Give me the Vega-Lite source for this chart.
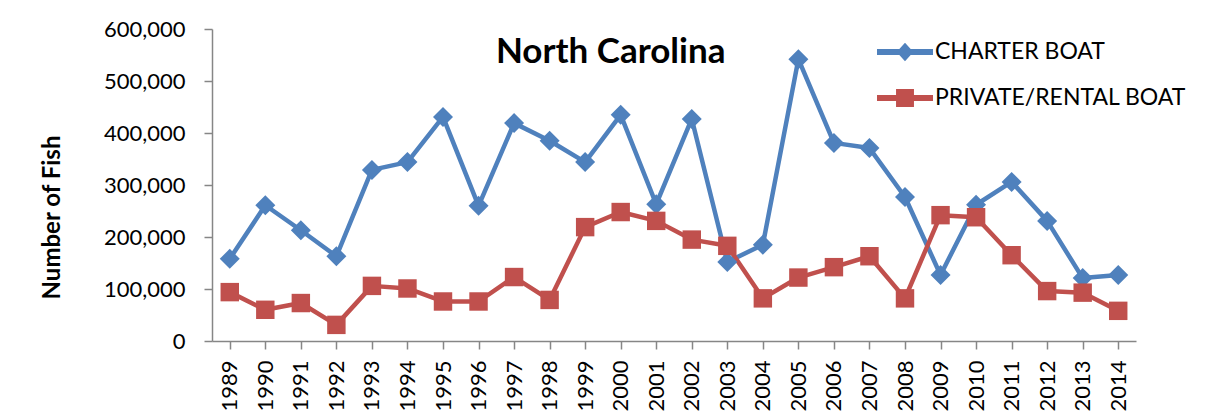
{
  "$schema": "https://vega.github.io/schema/vega-lite/v6.json",
  "width": 924,
  "height": 312,
  "autosize": {"type": "none"},
  "padding": {"left": 212, "top": 29, "right": 73, "bottom": 78},
  "background": "white",
  "config": {
    "font": "Lato",
    "view": {"stroke": null},
    "axis": {"domainColor": "#868686", "tickColor": "#868686", "labelColor": "#000000", "titleColor": "#000000", "grid": false}
  },
  "datasets": {
    "fish": [
      {"year": "1989", "series": "CHARTER BOAT", "fish": 158000},
      {"year": "1990", "series": "CHARTER BOAT", "fish": 261000},
      {"year": "1991", "series": "CHARTER BOAT", "fish": 213000},
      {"year": "1992", "series": "CHARTER BOAT", "fish": 163000},
      {"year": "1993", "series": "CHARTER BOAT", "fish": 329000},
      {"year": "1994", "series": "CHARTER BOAT", "fish": 344000},
      {"year": "1995", "series": "CHARTER BOAT", "fish": 431000},
      {"year": "1996", "series": "CHARTER BOAT", "fish": 260000},
      {"year": "1997", "series": "CHARTER BOAT", "fish": 419000},
      {"year": "1998", "series": "CHARTER BOAT", "fish": 385000},
      {"year": "1999", "series": "CHARTER BOAT", "fish": 344000},
      {"year": "2000", "series": "CHARTER BOAT", "fish": 435000},
      {"year": "2001", "series": "CHARTER BOAT", "fish": 263000},
      {"year": "2002", "series": "CHARTER BOAT", "fish": 427000},
      {"year": "2003", "series": "CHARTER BOAT", "fish": 152000},
      {"year": "2004", "series": "CHARTER BOAT", "fish": 185000},
      {"year": "2005", "series": "CHARTER BOAT", "fish": 542000},
      {"year": "2006", "series": "CHARTER BOAT", "fish": 381000},
      {"year": "2007", "series": "CHARTER BOAT", "fish": 371000},
      {"year": "2008", "series": "CHARTER BOAT", "fish": 277000},
      {"year": "2009", "series": "CHARTER BOAT", "fish": 127000},
      {"year": "2010", "series": "CHARTER BOAT", "fish": 262000},
      {"year": "2011", "series": "CHARTER BOAT", "fish": 306000},
      {"year": "2012", "series": "CHARTER BOAT", "fish": 231000},
      {"year": "2013", "series": "CHARTER BOAT", "fish": 121000},
      {"year": "2014", "series": "CHARTER BOAT", "fish": 127000},
      {"year": "1989", "series": "PRIVATE/RENTAL BOAT", "fish": 94000},
      {"year": "1990", "series": "PRIVATE/RENTAL BOAT", "fish": 60000},
      {"year": "1991", "series": "PRIVATE/RENTAL BOAT", "fish": 73000},
      {"year": "1992", "series": "PRIVATE/RENTAL BOAT", "fish": 31000},
      {"year": "1993", "series": "PRIVATE/RENTAL BOAT", "fish": 106000},
      {"year": "1994", "series": "PRIVATE/RENTAL BOAT", "fish": 101000},
      {"year": "1995", "series": "PRIVATE/RENTAL BOAT", "fish": 76000},
      {"year": "1996", "series": "PRIVATE/RENTAL BOAT", "fish": 76000},
      {"year": "1997", "series": "PRIVATE/RENTAL BOAT", "fish": 123000},
      {"year": "1998", "series": "PRIVATE/RENTAL BOAT", "fish": 79000},
      {"year": "1999", "series": "PRIVATE/RENTAL BOAT", "fish": 219000},
      {"year": "2000", "series": "PRIVATE/RENTAL BOAT", "fish": 248000},
      {"year": "2001", "series": "PRIVATE/RENTAL BOAT", "fish": 231000},
      {"year": "2002", "series": "PRIVATE/RENTAL BOAT", "fish": 195000},
      {"year": "2003", "series": "PRIVATE/RENTAL BOAT", "fish": 183000},
      {"year": "2004", "series": "PRIVATE/RENTAL BOAT", "fish": 82000},
      {"year": "2005", "series": "PRIVATE/RENTAL BOAT", "fish": 122000},
      {"year": "2006", "series": "PRIVATE/RENTAL BOAT", "fish": 142000},
      {"year": "2007", "series": "PRIVATE/RENTAL BOAT", "fish": 163000},
      {"year": "2008", "series": "PRIVATE/RENTAL BOAT", "fish": 82000},
      {"year": "2009", "series": "PRIVATE/RENTAL BOAT", "fish": 242000},
      {"year": "2010", "series": "PRIVATE/RENTAL BOAT", "fish": 238000},
      {"year": "2011", "series": "PRIVATE/RENTAL BOAT", "fish": 165000},
      {"year": "2012", "series": "PRIVATE/RENTAL BOAT", "fish": 96000},
      {"year": "2013", "series": "PRIVATE/RENTAL BOAT", "fish": 93000},
      {"year": "2014", "series": "PRIVATE/RENTAL BOAT", "fish": 58000}
    ],
    "heading": [
      {"label": "North Carolina", "year": "2000", "fish": 535000}
    ]
  },
  "data": {"name": "fish"},
  "encoding": {
    "y": {
      "field": "fish",
      "type": "quantitative",
      "scale": {"domain": [0, 600000], "nice": false, "zero": true},
      "axis": {
        "values": [0, 100000, 200000, 300000, 400000, 500000, 600000],
        "format": ",d",
        "title": "Number of Fish",
        "titleFont": "Lato",
        "titleFontSize": 24,
        "titleFontWeight": "bold",
        "titleAngle": -90,
        "titleX": -160,
        "titleY": 188,
        "titleAlign": "center",
        "titleBaseline": "middle",
        "labelFontSize": 22,
        "labelPadding": 19,
        "tickSize": 8,
        "domainWidth": 1.5,
        "tickWidth": 1.5
      }
    }
  },
  "layer": [
    {
      "mark": {"type": "line", "strokeWidth": 4.5, "strokeJoin": "round", "strokeCap": "round"},
      "encoding": {
        "x": {
          "field": "year",
          "type": "ordinal",
          "scale": {"paddingInner": 0, "paddingOuter": 0},
          "axis": {
            "orient": "bottom",
            "title": null,
            "labelAngle": -90,
            "labelFontSize": 22,
            "labelPadding": 19,
            "ticks": false,
            "domainWidth": 1.5
          }
        },
        "color": {
          "field": "series",
          "type": "nominal",
          "scale": {"domain": ["CHARTER BOAT", "PRIVATE/RENTAL BOAT"], "range": ["#4F81BD", "#C0504D"]},
          "legend": {
            "title": null,
            "orient": "none",
            "legendX": 665,
            "legendY": -5,
            "padding": 0,
            "rowPadding": 6,
            "labelOffset": 2,
            "labelFontSize": 23,
            "labelFont": "Lato",
            "labelColor": "#000000",
            "symbolSize": 3136,
            "symbolStrokeWidth": 0,
            "symbolOpacity": 1,
            "labelLimit": 400,
            "encode": {
              "symbols": {
                "update": {
                  "shape": {"signal": "datum.value === 'CHARTER BOAT' ? 'M-1,-0.11L1,-0.11L1,0.11L-1,0.11Z M0,-0.33L0.3,0L0,0.33L-0.3,0Z' : 'M-1,-0.11L1,-0.11L1,0.11L-1,0.11Z M-0.32,-0.32L0.32,-0.32L0.32,0.32L-0.32,0.32Z'"},
                  "fill": {"signal": "datum.value === 'CHARTER BOAT' ? '#4F81BD' : '#C0504D'"},
                  "size": {"value": 3136},
                  "strokeWidth": {"value": 0},
                  "opacity": {"value": 1}
                }
              }
            }
          }
        }
      }
    },
    {
      "transform": [{"filter": "datum.series === 'CHARTER BOAT'"}],
      "mark": {"type": "point", "shape": "diamond", "filled": true, "opacity": 1, "size": 400},
      "encoding": {
        "x": {
          "field": "year",
          "type": "ordinal",
          "axis": {
            "orient": "bottom",
            "title": null,
            "bandPosition": 0,
            "labels": false,
            "domain": false,
            "ticks": true,
            "tickSize": 8,
            "tickWidth": 1.5
          }
        },
        "color": {"field": "series", "type": "nominal"}
      }
    },
    {
      "transform": [{"filter": "datum.series === 'PRIVATE/RENTAL BOAT'"}],
      "mark": {"type": "point", "shape": "square", "filled": true, "opacity": 1, "size": 340},
      "encoding": {
        "x": {"field": "year", "type": "ordinal", "axis": null},
        "color": {"field": "series", "type": "nominal"}
      }
    },
    {
      "data": {"name": "heading"},
      "mark": {"type": "text", "font": "Lato", "fontSize": 35, "fontWeight": "bold", "color": "#000000", "align": "center", "baseline": "alphabetic", "dx": -10},
      "encoding": {
        "x": {"field": "year", "type": "ordinal", "axis": null},
        "text": {"field": "label"}
      }
    }
  ],
  "resolve": {"axis": {"x": "independent"}}
}
